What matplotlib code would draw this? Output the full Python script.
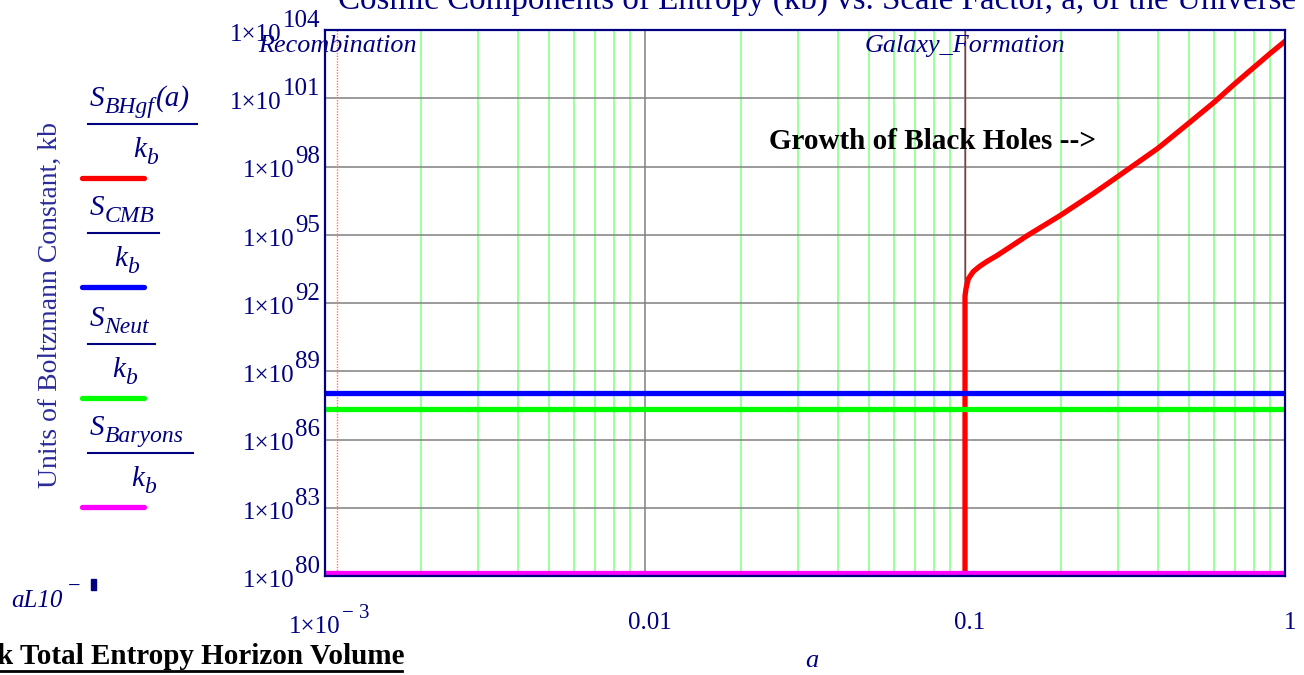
import matplotlib
matplotlib.use("Agg")
import matplotlib.pyplot as plt
import matplotlib.transforms as mtransforms
from matplotlib.lines import Line2D
from matplotlib.patches import Rectangle
from matplotlib.ticker import LogLocator, NullLocator
import numpy as np

plt.rcParams['font.family'] = ['Liberation Serif', 'DejaVu Serif']

NAVY = '#000080'

# values
a_bh = [0.1, 0.1, 0.1007, 0.1024, 0.1061, 0.1114, 0.1169, 0.1257, 0.1383,
        0.156, 0.198, 0.252, 0.3, 0.4, 0.495, 0.6, 0.7, 0.8, 0.9, 1.0]
s_bh = [1e79, 2.0e92, 4.2e92, 1.15e93, 2.4e93, 4.2e93, 6.6e93, 1.2e94, 2.9e94,
        8.9e94, 6.9e95, 6.5e96, 3.6e97, 6.2e98, 7.1e99, 6.6e100, 4.6e101,
        2.3e102, 9.5e102, 3.2e103]
a_flat = [1e-3, 1.0]
s_cmb = [1.1e88, 1.1e88]
s_neut = [2.1e87, 2.1e87]
s_baryons = [1.4e80, 1.4e80]

a_recomb = 1.09e-3
a_galaxy = 0.1

y_exps = [80, 83, 86, 89, 92, 95, 98, 101, 104]
x_ticks = [1e-3, 1e-2, 1e-1, 1.0]
x_labels = ['', '0.01', '0.1', '1']

leg_subs = ['BHgf', 'CMB', 'Neut', 'Baryons']
leg_args = ['(a)', '', '', '']
leg_colors = ['#ff0000', '#0000ff', '#00ff00', '#ff00ff']

title = 'Cosmic Components of Entropy (kb) vs. Scale Factor, a, of the Universe'

W, H = 1304, 675
fx = lambda x: x / W
fy = lambda y: 1 - y / H

fig = plt.figure(figsize=(W / 100, H / 100), dpi=100)
ax = fig.add_axes([fx(325), fy(576), 960 / W, 546 / H])
ax.set_xscale('log')
ax.set_yscale('log')
ax.set_xlim(1e-3, 1)
ax.set_ylim(1e80, 1e104)

ax.set_yticks([10.0 ** e for e in y_exps])
ax.set_yticklabels([])
ax.yaxis.set_minor_locator(NullLocator())
ax.set_xticks(x_ticks)
ax.set_xticklabels(x_labels)
ax.xaxis.set_minor_locator(LogLocator(base=10, subs=np.arange(2, 10)))
ax.xaxis.set_minor_formatter(plt.NullFormatter())
ax.tick_params(which='both', length=0)
ax.tick_params(axis='x', pad=26, labelsize=18, labelcolor=NAVY)
shift = mtransforms.ScaledTranslation(5 / 100, 0, fig.dpi_scale_trans)
for lab in ax.get_xticklabels():
    lab.set_transform(lab.get_transform() + shift)
ax.grid(which='major', color='#808080', lw=1.1)
ax.grid(which='minor', axis='x', color='#80ff80', lw=1.1)
ax.set_axisbelow(True)
for sp in ax.spines.values():
    sp.set_color(NAVY)
    sp.set_linewidth(1.6)

# event markers
ax.axvline(a_recomb, color='#ff7070', lw=1, ls=(0, (1, 1)))
ax.axvline(a_galaxy, color='#a03030', lw=1)

# curves
lw = 3.8
ax.plot(a_bh, s_bh, color=leg_colors[0], lw=lw, solid_joinstyle='round')
ax.plot(a_flat, s_cmb, color=leg_colors[1], lw=lw)
ax.plot(a_flat, s_neut, color=leg_colors[2], lw=lw)
ax.plot(a_flat, s_baryons, color=leg_colors[3], lw=lw)

ax.text(a_recomb, 2e103, 'Recombination', style='italic', fontsize=18.8,
        color=NAVY, ha='center', va='center')
ax.text(a_galaxy, 2e103, 'Galaxy_Formation', style='italic', fontsize=18.8,
        color=NAVY, ha='center', va='center')
ax.text(0.079, 1.3e99, 'Growth of Black Holes -->', fontweight='bold',
        fontsize=21, color='black', ha='center', va='center')

# y tick labels in Mathcad style: 1x10 with a big exponent
for e in y_exps:
    ex = ax.annotate(str(e), xy=(0, 10.0 ** e), xycoords=ax.get_yaxis_transform(),
                     xytext=(-5, 9), textcoords='offset pixels', ha='right',
                     va='center', fontsize=18, color=NAVY)
    ax.annotate('1\u00d710', xy=(0, 0.5), xycoords=ex, xytext=(-1, -14),
                textcoords='offset pixels', ha='right', va='center',
                fontsize=18, color=NAVY)

# first x tick label
ax.annotate('1\u00d710', xy=(x_ticks[0], 0), xycoords=ax.get_xaxis_transform(),
            xytext=(15, -51), textcoords='offset pixels', ha='right',
            va='center', fontsize=18, color=NAVY)
ax.annotate('\u2212 3', xy=(x_ticks[0], 0), xycoords=ax.get_xaxis_transform(),
            xytext=(17, -37), textcoords='offset pixels', ha='left',
            va='center', fontsize=15, color=NAVY)

fig.text(fx(812), fy(661), 'a', style='italic', fontsize=19, color=NAVY,
         ha='center', va='center')
fig.text(fx(50), fy(305), 'Units of Boltzmann Constant, kb', rotation=90,
         fontsize=20, color='#2a2a9a', ha='center', va='center')
fig.text(fx(817), fy(9), title, fontsize=23.8, color=NAVY, ha='center',
         va='baseline')

# left-hand legend, drawn as fractions S_x / k_b
bar_y = [124, 233, 344, 453]
bar_right = [197, 159, 155, 193]
big, small = 21, 17
for sub, arg, c, by, br in zip(leg_subs, leg_args, leg_colors, bar_y, bar_right):
    s = fig.text(fx(90), fy(by - 18), 'S', style='italic', fontsize=big,
                 color=NAVY, ha='left', va='baseline')
    st = ax.annotate(sub, xy=(1, 0), xycoords=s, xytext=(0, -1),
                     textcoords='offset pixels', style='italic', fontsize=small,
                     color=NAVY, ha='left', va='baseline', annotation_clip=False)
    if arg:
        ax.annotate(arg, xy=(1, 0), xycoords=st, xytext=(1, 12),
                    textcoords='offset pixels', style='italic', fontsize=big,
                    color=NAVY, ha='left', va='baseline', annotation_clip=False)
    fig.add_artist(Line2D([fx(88), fx(br)], [fy(by), fy(by)], color=NAVY, lw=1.5))
    k = fig.text(fx((88 + br) / 2 + 4), fy(by + 33), 'k', style='italic',
                 fontsize=big, color=NAVY, ha='right', va='baseline')
    ax.annotate('b', xy=(1, 0), xycoords=k, xytext=(0, -1),
                textcoords='offset pixels', style='italic', fontsize=small,
                color=NAVY, ha='left', va='baseline', annotation_clip=False)
    fig.add_artist(Line2D([fx(82), fx(144)], [fy(by + 54), fy(by + 54)], color=c,
                          lw=lw, solid_capstyle='round'))

fig.text(fx(11), fy(607), 'aL10', style='italic', fontsize=18, color=NAVY,
         ha='left', va='baseline')
fig.text(fx(68), fy(592), '\u2212', fontsize=16, color=NAVY, ha='left', va='baseline')
fig.add_artist(Rectangle((fx(91), fy(590)), 5 / W, 11 / H, color=NAVY,
                         transform=fig.transFigure))

fig.text(fx(-3), fy(664), 'k Total Entropy Horizon Volume', fontweight='bold',
         fontsize=21, color='black', ha='left', va='baseline')
fig.add_artist(Line2D([fx(0), fx(402)], [fy(671), fy(671)], color='black', lw=2))

fig.savefig('out.png', dpi=100)
